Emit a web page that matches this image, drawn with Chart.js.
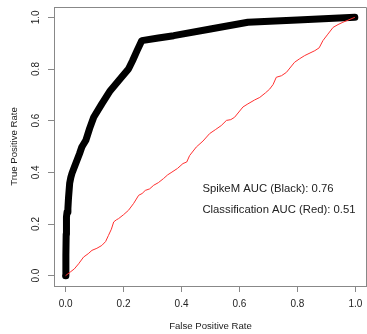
<!DOCTYPE html>
<html>
<head>
<meta charset="utf-8">
<script src="https://cdn.jsdelivr.net/npm/chart.js@4/dist/chart.umd.min.js"></script>
<style>
  html, body { margin: 0; padding: 0; background: #fff; }
  #wrap { width: 367px; height: 334px; }
</style>
</head>
<body>
<div id="wrap"><canvas id="roc" width="367" height="334"></canvas></div>
<script>
// SpikeM ROC (black, thick)
const spikeFpr = [0, 0.001, 0.002, 0.003, 0.005, 0.008, 0.010, 0.014, 0.018, 0.022, 0.030, 0.039, 0.048, 0.056, 0.070, 0.083, 0.097, 0.125, 0.154, 0.185, 0.217, 0.231, 0.247, 0.263, 0.320, 0.373, 0.500, 0.629, 0.800, 0.998];
const spikeTpr = [0, 0.080, 0.160, 0.227, 0.246, 0.260, 0.300, 0.357, 0.380, 0.396, 0.420, 0.446, 0.472, 0.498, 0.524, 0.570, 0.613, 0.665, 0.716, 0.757, 0.800, 0.832, 0.872, 0.910, 0.920, 0.929, 0.955, 0.981, 0.990, 1.000];

// Classification ROC (red, thin)
const clsFpr = [0, 0.016, 0.030, 0.045, 0.062, 0.078, 0.091, 0.108, 0.125, 0.138, 0.148, 0.158, 0.166, 0.175, 0.183, 0.200, 0.217, 0.235, 0.252, 0.264, 0.275, 0.290, 0.304, 0.320, 0.338, 0.352, 0.367, 0.386, 0.405, 0.418, 0.428, 0.451, 0.474, 0.497, 0.518, 0.537, 0.555, 0.570, 0.583, 0.612, 0.629, 0.652, 0.670, 0.690, 0.704, 0.716, 0.727, 0.745, 0.762, 0.790, 0.808, 0.825, 0.860, 0.875, 0.888, 0.905, 0.923, 0.940, 0.957, 0.998];
const clsTpr = [0, 0.014, 0.026, 0.046, 0.072, 0.085, 0.098, 0.106, 0.117, 0.132, 0.156, 0.180, 0.208, 0.216, 0.221, 0.236, 0.253, 0.280, 0.311, 0.318, 0.330, 0.336, 0.350, 0.360, 0.376, 0.390, 0.401, 0.415, 0.434, 0.440, 0.465, 0.498, 0.521, 0.550, 0.566, 0.581, 0.601, 0.604, 0.613, 0.653, 0.665, 0.680, 0.690, 0.708, 0.722, 0.740, 0.768, 0.774, 0.787, 0.826, 0.840, 0.852, 0.871, 0.882, 0.910, 0.935, 0.961, 0.972, 0.981, 1.000];

const tickVals = [0, 0.2, 0.4, 0.6, 0.8, 1.0];
const xTitle = 'False Positive Rate';
const yTitle = 'True Positive Rate';
const notes = ['SpikeM AUC (Black): 0.76', 'Classification AUC (Red): 0.51'];

const pts = (xs, ys) => xs.map((x, i) => ({x: x, y: ys[i]}));
const FONT = '"Liberation Sans", Arial, Helvetica, sans-serif';

// draws the R style box, tick labels, titles and the AUC notes
const rDecor = {
  id: 'rDecor',
  afterDraw(chart) {
    const c = chart.ctx, a = chart.chartArea;
    const xs = chart.scales.x, ys = chart.scales.y;
    c.save();
    c.strokeStyle = '#888';
    c.lineWidth = 1;
    c.beginPath();
    c.moveTo(a.left + 0.5, a.bottom + 0.5);
    c.lineTo(a.left + 0.5, a.top + 0.5);
    c.lineTo(a.right - 0.5, a.top + 0.5);
    c.lineTo(a.right - 0.5, a.bottom + 0.5);
    c.stroke();

    c.fillStyle = '#222';
    c.font = '10px ' + FONT;
    c.textAlign = 'center';
    c.textBaseline = 'middle';
    tickVals.forEach(v => {
      c.fillText(v.toFixed(1), xs.getPixelForValue(v), a.bottom + 18);
    });
    tickVals.forEach(v => {
      c.save();
      c.translate(a.left - 18, ys.getPixelForValue(v));
      c.rotate(-Math.PI / 2);
      c.fillText(v.toFixed(1), 0, 0);
      c.restore();
    });

    c.font = '9.6px ' + FONT;
    c.fillText(xTitle, (a.left + a.right) / 2, 326);
    c.save();
    c.translate(14, (a.top + a.bottom) / 2);
    c.rotate(-Math.PI / 2);
    c.fillText(yTitle, 0, 0);
    c.restore();

    c.font = '11.3px ' + FONT;
    c.textAlign = 'left';
    c.fillText(notes[0], xs.getPixelForValue(0.472), ys.getPixelForValue(0.337));
    c.fillText(notes[1], xs.getPixelForValue(0.472), ys.getPixelForValue(0.253));
    c.restore();
  }
};

new Chart(document.getElementById('roc').getContext('2d'), {
  type: 'line',
  data: {
    datasets: [
      {
        label: 'Classification',
        data: pts(clsFpr, clsTpr),
        borderColor: '#ff3030',
        borderWidth: 1,
        pointRadius: 0,
        tension: 0,
        order: 0
      },
      {
        label: 'SpikeM',
        data: pts(spikeFpr, spikeTpr),
        borderColor: '#000',
        borderWidth: 7,
        borderCapStyle: 'round',
        borderJoinStyle: 'round',
        pointRadius: 0,
        tension: 0,
        order: 1
      }
    ]
  },
  options: {
    responsive: false,
    animation: false,
    layout: { padding: { left: 48, right: 0, top: 7, bottom: 42 } },
    plugins: {
      legend: { display: false },
      tooltip: { enabled: false }
    },
    scales: {
      x: {
        type: 'linear',
        min: -0.04,
        max: 1.04,
        afterBuildTicks: s => { s.ticks = tickVals.map(v => ({value: v})); },
        ticks: { display: false },
        grid: { drawOnChartArea: false, drawTicks: true, tickLength: 6, color: '#888' },
        border: { display: true, color: '#888' }
      },
      y: {
        type: 'linear',
        min: -0.04,
        max: 1.04,
        afterBuildTicks: s => { s.ticks = tickVals.map(v => ({value: v})); },
        ticks: { display: false },
        grid: { drawOnChartArea: false, drawTicks: true, tickLength: 6, color: '#888' },
        border: { display: true, color: '#888' }
      }
    }
  },
  plugins: [rDecor]
});
</script>
</body>
</html>
